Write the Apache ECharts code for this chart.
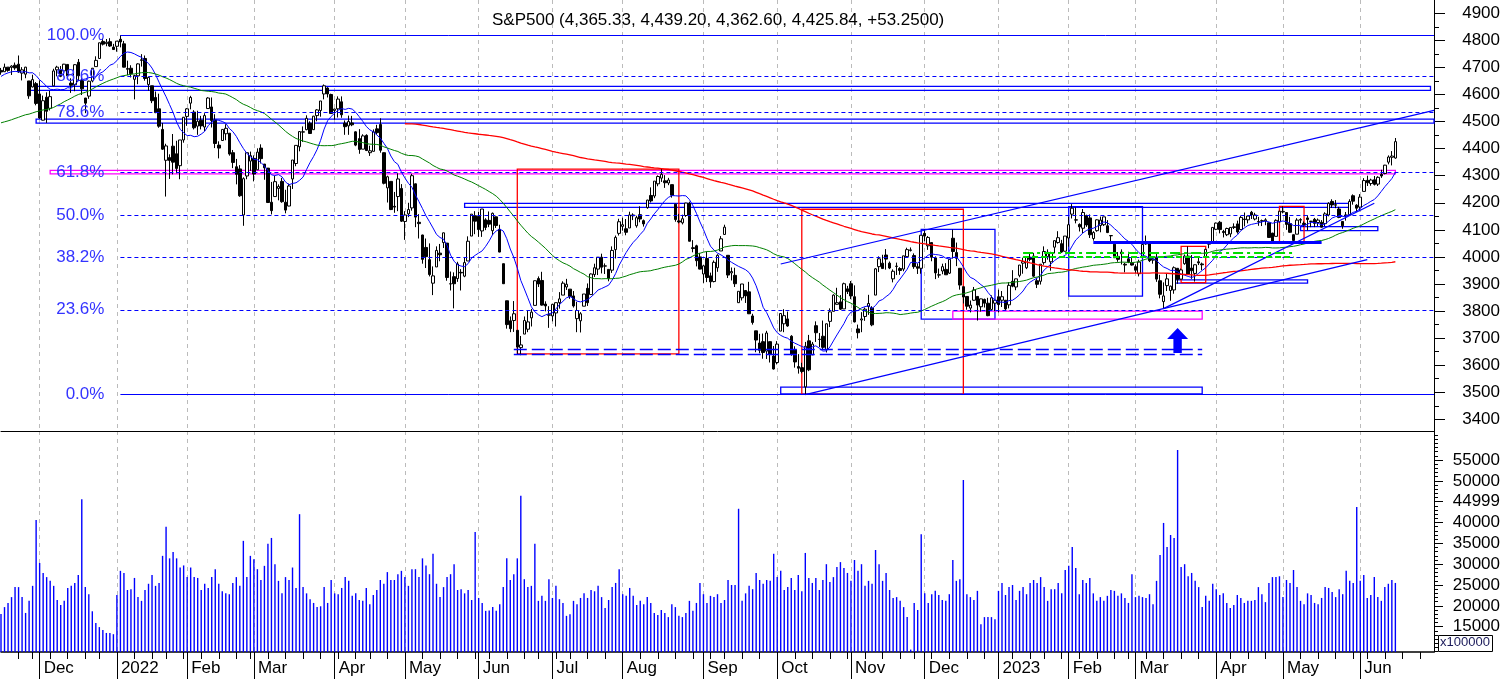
<!DOCTYPE html>
<html>
<head>
<meta charset="utf-8">
<title>S&amp;P500</title>
<script src="https://cdn.jsdelivr.net/npm/echarts@6/dist/echarts.min.js"></script>
<style>
  html, body { margin: 0; padding: 0; background: #fff; }
  #chart { width: 1506px; height: 679px; }
</style>
</head>
<body>
<div id="chart"></div>
<script>
// closes before the visible window, only used for the moving averages
const closesBefore = [4258,4323,4359,4367,4412,4422,4401,4401,4419,4395,
  4387,4423,4403,4429,4437,4432,4437,4448,4461,4468,4480,4448,4400,4406,4442,4480,4486,4496,4470,4509,4529,4523,
  4524,4537,4535,4520,4514,4493,4459,4469,4443,4481,4474,4433,4358,4354,4396,4449,4455,4443,4353,4359,4308,
  4357,4300,4346,4364,4400,4391,4361,4351,4364,4438,4471,4486,4520,4536,4550,4545,4566,4575,4552,4596,4605,
  4614,4631,4661,4680,4698,4702,4685,4647,4649,4683];

// rows: [day, open, high, low, close, volume (x100000)]
const nov2021 = [[15,4689,4698,4673,4683,18050],[16,4684,4714,4683,4701,19700],[17,4701,4701,4684,4689,20700],[18,4700,4708,4672,4705,22100],[19,4708,4718,4691,4698,24500],[22,4712,4744,4680,4683,24500],[23,4679,4701,4652,4691,22100],[24,4675,4702,4660,4701,18300],[26,4650,4650,4584,4595,21200],[29,4628,4673,4626,4655,24800],[30,4640,4646,4560,4567,40600]];
const dec2021 = [[1,4602,4652,4510,4513,30300],[2,4505,4596,4504,4577,27900],[3,4590,4608,4495,4538,26900],[6,4549,4613,4541,4592,26000],[7,4632,4695,4632,4687,24800],[8,4691,4706,4667,4701,21400],[9,4691,4705,4664,4667,20200],[10,4687,4713,4670,4712,21200],[13,4711,4711,4666,4669,24300],[14,4642,4660,4606,4634,24800],[15,4636,4712,4612,4710,25500],[16,4719,4731,4651,4669,27400],[17,4652,4667,4598,4621,45600],[20,4587,4587,4531,4568,24500],[21,4594,4651,4584,4649,22800],[22,4650,4698,4645,4697,18700],[23,4703,4741,4703,4726,15900],[27,4733,4791,4733,4791,14900],[28,4796,4808,4781,4786,14200],[29,4788,4805,4778,4793,13500],[30,4795,4808,4776,4779,13500],[31,4775,4787,4766,4766,13200]];
const jan2022 = [[3,4778,4797,4758,4797,22600],[4,4804,4819,4774,4794,28400],[5,4787,4798,4700,4701,27900],[6,4693,4725,4671,4696,23800],[7,4697,4708,4663,4677,24000],[10,4656,4673,4582,4670,26700],[11,4669,4715,4638,4713,22100],[12,4728,4749,4703,4726,21200],[13,4733,4744,4651,4659,23800],[14,4637,4666,4614,4663,25300],[18,4632,4632,4568,4577,27400],[19,4589,4611,4531,4533,24800],[20,4547,4603,4477,4483,25500],[21,4471,4495,4395,4398,32000],[24,4357,4418,4223,4410,39000],[25,4367,4379,4288,4356,31400],[26,4409,4454,4305,4350,32900],[27,4381,4429,4309,4327,31400],[28,4337,4432,4287,4432,29200],[31,4432,4517,4422,4516,29700]];
const feb2022 = [[1,4519,4550,4484,4547,26900],[2,4568,4595,4545,4589,29200],[3,4535,4542,4471,4477,26900],[4,4483,4540,4451,4501,26700],[7,4505,4521,4471,4484,23800],[8,4480,4531,4465,4522,25300],[9,4548,4590,4548,4587,24300],[10,4554,4589,4478,4504,26900],[11,4506,4527,4402,4419,28800],[14,4413,4427,4364,4402,25300],[15,4430,4472,4429,4471,23500],[16,4455,4490,4431,4475,23000],[17,4457,4457,4374,4380,22800],[18,4385,4395,4328,4349,25500],[22,4333,4362,4268,4305,26900],[23,4325,4339,4222,4226,24800],[24,4155,4294,4115,4289,35600],[25,4299,4385,4287,4385,26900],[28,4354,4389,4318,4374,32000]];
const mar2022 = [[1,4364,4375,4279,4306,31200],[2,4322,4401,4322,4387,28800],[3,4402,4416,4345,4363,26200],[4,4343,4343,4285,4329,29600],[7,4328,4328,4199,4201,34900],[8,4202,4277,4157,4171,36300],[9,4223,4299,4223,4278,30000],[10,4253,4268,4209,4260,26000],[11,4279,4292,4200,4204,23000],[14,4202,4248,4161,4173,26900],[15,4188,4271,4187,4262,26200],[16,4288,4358,4251,4358,29200],[17,4345,4412,4335,4412,24300],[18,4407,4465,4390,4463,42000],[21,4462,4482,4425,4461,24500],[22,4470,4523,4468,4512,23000],[23,4494,4501,4455,4456,21600],[24,4470,4521,4469,4520,20700],[25,4522,4546,4501,4543,19700],[28,4541,4576,4518,4576,19900],[29,4602,4637,4582,4632,24500],[30,4624,4627,4589,4602,20700],[31,4600,4603,4530,4530,26200]];
const apr2022 = [[1,4541,4548,4507,4546,23000],[4,4547,4593,4515,4583,22800],[5,4573,4593,4514,4525,24300],[6,4494,4504,4451,4481,26900],[7,4484,4522,4451,4500,26000],[8,4495,4521,4483,4488,22400],[11,4462,4464,4409,4413,23000],[12,4437,4472,4381,4397,21400],[13,4398,4453,4398,4447,21200],[14,4449,4453,4391,4393,24300],[18,4385,4411,4373,4392,20400],[19,4390,4471,4390,4462,22600],[20,4473,4488,4452,4459,23800],[21,4489,4512,4385,4394,26200],[22,4385,4386,4268,4272,25300],[25,4255,4300,4201,4296,28100],[26,4279,4279,4173,4175,26200],[27,4187,4240,4163,4184,26200],[28,4223,4309,4169,4288,27600],[29,4253,4269,4129,4132,28400]];
const may2022 = [[2,4131,4169,4063,4155,26900],[3,4159,4200,4147,4175,24800],[4,4181,4307,4171,4300,28800],[5,4270,4271,4110,4147,28800],[6,4128,4158,4068,4123,26900],[9,4081,4082,3975,3991,31400],[10,4035,4068,3959,4001,29700],[11,3990,4050,3928,3935,27600],[12,3903,3965,3859,3930,32500],[13,3963,4039,3963,4024,25300],[16,4014,4048,3984,4008,22100],[17,4053,4090,4033,4089,24500],[18,4051,4051,3912,3924,26900],[19,3900,3946,3876,3901,27600],[20,3927,3943,3810,3901,30000],[23,3920,3982,3908,3974,23800],[24,3943,3955,3876,3941,24000],[25,3929,3999,3925,3979,23000],[26,3985,4076,3985,4058,23800],[27,4077,4158,4077,4158,21400],[31,4152,4169,4084,4132,37700]];
const jun2022 = [[1,4150,4166,4074,4101,21900],[2,4096,4177,4074,4177,20700],[3,4137,4143,4099,4109,18800],[6,4135,4168,4110,4121,18900],[7,4097,4164,4081,4161,19700],[8,4148,4149,4107,4116,18800],[9,4102,4119,4017,4018,20400],[10,3975,3975,3900,3901,24500],[13,3838,3838,3735,3750,31400],[14,3764,3780,3722,3735,26200],[15,3765,3837,3723,3790,27600],[16,3729,3729,3640,3667,31400],[17,3665,3708,3637,3675,46400],[21,3715,3780,3715,3765,26400],[22,3733,3802,3722,3760,24500],[23,3775,3808,3743,3796,24800],[24,3821,3913,3821,3912,34900],[27,3920,3928,3889,3900,21200],[28,3913,3945,3820,3822,22400],[29,3826,3836,3799,3819,21200],[30,3786,3818,3738,3785,26400]];
const jul2022 = [[1,3782,3827,3762,3825,21900],[5,3793,3832,3743,3831,24800],[6,3831,3870,3809,3845,21600],[7,3859,3910,3859,3903,20700],[8,3889,3919,3878,3899,17600],[11,3881,3881,3845,3854,18000],[12,3856,3874,3813,3819,21200],[13,3772,3834,3722,3802,20400],[14,3764,3796,3721,3790,21900],[15,3818,3863,3818,3863,23000],[18,3884,3902,3819,3831,21900],[19,3861,3939,3861,3937,23800],[20,3935,3975,3926,3960,23500],[21,3955,3999,3933,3999,24800],[22,3999,4012,3939,3962,22100],[25,3966,3976,3937,3967,19500],[26,3954,3954,3910,3921,21400],[27,3951,4039,3941,4024,24500],[28,4027,4079,3994,4072,25500],[29,4087,4141,4079,4130,28800]];
const aug2022 = [[1,4113,4145,4097,4119,22800],[2,4104,4140,4080,4091,22400],[3,4107,4167,4107,4155,24300],[4,4155,4161,4136,4152,22400],[5,4115,4152,4108,4145,20200],[8,4156,4187,4128,4140,21200],[9,4134,4138,4112,4122,20400],[10,4182,4211,4178,4210,22100],[11,4227,4257,4201,4207,20700],[12,4225,4280,4217,4280,18300],[15,4270,4301,4261,4297,17800],[16,4291,4325,4277,4305,19000],[17,4281,4302,4255,4274,18300],[18,4273,4292,4265,4284,17300],[19,4267,4267,4219,4228,20400],[22,4195,4196,4130,4138,19700],[23,4133,4159,4124,4129,17600],[24,4126,4156,4120,4141,17300],[25,4153,4200,4148,4199,18300],[26,4198,4204,4057,4058,21200],[29,4034,4062,4017,4031,18800],[30,4041,4045,3965,3986,20700],[31,4000,4015,3954,3955,25500]];
const sep2022 = [[1,3937,3970,3904,3967,22800],[2,3994,4019,3907,3924,20700],[6,3930,3942,3886,3908,22400],[7,3909,3987,3906,3980,22100],[8,3960,4010,3945,4006,22800],[9,4022,4077,4022,4067,20700],[12,4083,4119,4083,4110,21400],[13,4006,4006,3922,3933,26200],[14,3941,3961,3913,3946,25000],[15,3932,3960,3889,3901,25000],[16,3831,3873,3830,3873,43300],[19,3849,3900,3839,3900,21200],[20,3876,3877,3830,3856,23000],[21,3871,3908,3789,3790,24800],[22,3782,3790,3750,3758,24000],[23,3727,3727,3648,3693,27900],[26,3682,3716,3644,3655,26200],[27,3687,3717,3624,3647,25300],[28,3652,3727,3623,3719,26200],[29,3687,3688,3610,3640,26000],[30,3634,3671,3584,3586,32500]];
const oct2022 = [[3,3610,3689,3603,3678,26900],[4,3726,3791,3726,3791,28400],[5,3753,3807,3722,3783,23800],[6,3771,3798,3742,3745,24500],[7,3707,3711,3635,3640,26700],[10,3657,3670,3591,3612,23800],[11,3595,3641,3569,3589,27400],[12,3591,3609,3570,3577,23500],[13,3520,3686,3492,3670,32700],[14,3690,3712,3578,3583,26700],[17,3638,3686,3638,3678,25500],[18,3746,3762,3686,3720,26700],[19,3696,3719,3667,3695,23800],[20,3707,3765,3658,3666,26200],[21,3657,3754,3647,3753,30000],[24,3762,3810,3741,3797,25700],[25,3799,3862,3799,3859,26900],[26,3825,3886,3824,3831,29300],[27,3834,3859,3804,3807,30500],[28,3808,3905,3808,3901,29100],[31,3882,3893,3863,3872,27900]];
const nov2022 = [[1,3901,3911,3844,3856,26000],[2,3853,3895,3758,3760,31000],[3,3734,3750,3699,3720,28400],[4,3767,3796,3722,3771,30000],[7,3780,3813,3764,3807,24800],[8,3817,3860,3786,3828,26000],[9,3811,3818,3744,3749,25300],[10,3859,3959,3859,3956,33400],[11,3964,4002,3944,3993,30000],[14,3977,4008,3957,3957,26000],[15,4007,4029,3953,3992,27900],[16,3977,3983,3955,3959,23800],[17,3919,3954,3906,3947,21900],[18,3966,3979,3933,3965,22100],[21,3957,3962,3934,3950,21200],[22,3955,4004,3947,4004,19700],[23,4001,4034,3999,4027,17300],[25,4024,4035,4020,4026,9500],[28,4005,4013,3956,3964,20700],[29,3964,3976,3937,3958,19000],[30,3958,4080,3938,4080,37200]];
const dec2022 = [[1,4087,4101,4058,4077,23000],[2,4041,4077,4026,4072,20700],[5,4053,4053,3984,3999,22800],[6,3996,4002,3918,3941,23600],[7,3933,3957,3923,3934,22600],[8,3948,3975,3936,3964,21400],[9,3954,3977,3934,3934,21200],[12,3940,3990,3937,3991,22800],[13,4069,4101,3994,4020,31000],[14,4016,4053,3966,3995,26000],[15,3958,3958,3879,3896,26400],[16,3890,3890,3828,3852,50200],[19,3854,3855,3805,3818,22800],[20,3811,3839,3795,3822,22100],[21,3840,3889,3838,3878,21400],[22,3854,3854,3765,3822,23600],[23,3816,3846,3798,3845,15600],[27,3843,3846,3813,3829,17300],[28,3829,3849,3781,3783,17300],[29,3806,3858,3806,3849,17300],[30,3829,3840,3800,3840,16800]];
const jan2023 = [[3,3853,3879,3795,3824,23600],[4,3840,3874,3815,3853,25500],[5,3840,3840,3803,3808,22600],[6,3823,3907,3810,3895,24500],[9,3910,3951,3888,3892,25000],[10,3889,3920,3877,3919,21400],[11,3932,3970,3925,3970,23600],[12,3977,3997,3938,3983,24500],[13,3960,4003,3955,3999,22800],[17,3999,4015,3984,3991,25500],[18,4003,4015,3926,3929,26200],[19,3912,3923,3885,3899,25500],[20,3910,3973,3898,3973,26900],[23,3979,4039,3971,4020,24500],[24,4001,4028,3990,4017,21200],[25,3982,4019,3949,4016,24000],[26,4036,4061,4013,4060,24000],[27,4053,4095,4049,4071,25500],[30,4049,4063,4015,4018,23000],[31,4021,4077,4020,4077,28600]];
const feb2023 = [[1,4070,4148,4038,4119,29600],[2,4158,4195,4142,4180,34100],[3,4137,4183,4124,4136,29100],[6,4120,4124,4094,4111,22800],[7,4106,4177,4088,4164,26200],[8,4153,4156,4111,4118,25500],[9,4144,4157,4070,4082,26700],[10,4068,4095,4060,4090,23000],[13,4097,4139,4093,4137,21200],[14,4116,4149,4091,4136,22100],[15,4119,4148,4114,4148,21200],[16,4115,4136,4088,4090,22400],[17,4078,4081,4048,4079,23800],[21,4047,4049,3996,3997,23600],[22,4002,4018,3982,3991,22400],[23,4018,4028,3972,4012,23000],[24,3973,3978,3943,3970,21900],[27,3993,4019,3977,3982,20700],[28,3977,3998,3968,3970,27600]];
const mar2023 = [[1,3964,3972,3940,3951,22100],[2,3938,3990,3928,3981,22400],[3,3998,4048,3998,4046,22100],[6,4055,4079,4045,4048,21900],[7,4049,4051,3981,3986,22800],[8,3988,4001,3975,3992,20400],[9,3999,4017,3908,3918,26000],[10,3912,3934,3847,3862,32200],[13,3835,3906,3809,3856,39900],[14,3894,3937,3874,3919,34100],[15,3876,3894,3838,3892,37000],[16,3878,3965,3864,3960,36300],[17,3958,3959,3901,3917,57400],[20,3918,3957,3917,3952,29300],[21,3975,4009,3971,4003,30000],[22,4003,4039,3936,3937,27100],[23,3959,4007,3919,3949,27900],[24,3939,3972,3909,3971,26000],[27,3982,4003,3970,3978,24500],[28,3974,3979,3951,3971,19700],[29,3999,4030,3999,4028,22400],[30,4047,4058,4032,4051,21200],[31,4056,4110,4056,4109,25300]];
const apr2023 = [[3,4102,4127,4099,4125,24000],[4,4128,4133,4087,4101,22600],[5,4094,4100,4072,4090,23000],[6,4082,4108,4077,4105,20700],[10,4085,4110,4073,4109,19500],[11,4111,4124,4103,4109,20200],[12,4122,4134,4086,4092,22600],[13,4101,4151,4099,4146,21900],[14,4140,4164,4113,4138,20700],[17,4137,4152,4124,4151,21200],[18,4165,4170,4140,4155,21200],[19,4140,4163,4135,4155,21400],[20,4131,4148,4115,4130,24500],[21,4132,4138,4114,4134,22800],[24,4133,4143,4117,4137,20900],[25,4126,4127,4071,4072,25500],[26,4088,4089,4049,4056,26900],[27,4076,4139,4076,4135,26900],[28,4129,4170,4128,4169,27100]];
const may2023 = [[1,4166,4187,4161,4168,22100],[2,4164,4164,4100,4120,26200],[3,4123,4148,4089,4091,25500],[4,4082,4083,4048,4061,28600],[5,4084,4143,4084,4136,24500],[8,4136,4143,4124,4138,21200],[9,4124,4131,4111,4119,20400],[10,4144,4154,4098,4138,23000],[11,4132,4133,4110,4131,22600],[12,4139,4144,4110,4124,20700],[15,4127,4142,4114,4136,20400],[16,4128,4136,4109,4110,21900],[17,4123,4165,4114,4159,24500],[18,4155,4202,4150,4198,24300],[19,4205,4213,4181,4192,23300],[22,4191,4210,4180,4193,22100],[23,4177,4185,4143,4146,24000],[24,4131,4132,4104,4115,22800],[25,4155,4166,4134,4151,28400],[26,4156,4213,4155,4205,26000],[30,4226,4231,4193,4206,25500],[31,4191,4195,4167,4180,43700]];
const jun2023 = [[1,4184,4232,4169,4221,26000],[2,4242,4291,4242,4282,27400],[5,4283,4300,4262,4274,21900],[6,4271,4289,4263,4284,22600],[7,4285,4299,4264,4268,26900],[8,4269,4298,4262,4294,22100],[9,4305,4322,4292,4299,21200],[12,4308,4340,4305,4339,24500],[13,4350,4375,4342,4369,25300],[14,4368,4391,4338,4372.59,26200],[15,4365.33,4439.20,4362.60,4425.84,25500]];

const months = [['2021-11', nov2021], ['2021-12', dec2021], ['2022-01', jan2022], ['2022-02', feb2022],
  ['2022-03', mar2022], ['2022-04', apr2022], ['2022-05', may2022], ['2022-06', jun2022], ['2022-07', jul2022],
  ['2022-08', aug2022], ['2022-09', sep2022], ['2022-10', oct2022], ['2022-11', nov2022], ['2022-12', dec2022],
  ['2023-01', jan2023], ['2023-02', feb2023], ['2023-03', mar2023], ['2023-04', apr2023], ['2023-05', may2023],
  ['2023-06', jun2023]];
// empty days kept on the right of the axis
const futureDates = ['2023-06-16','2023-06-19','2023-06-20','2023-06-21','2023-06-22','2023-06-23',
  '2023-06-26','2023-06-27','2023-06-28','2023-06-29','2023-06-30'];

// axis
const priceMin = 3357, priceMax = 4949;
const priceTicks = [3400,3500,3600,3700,3800,3900,4000,4100,4200,4300,4400,4500,4600,4700,4800,4900];
const priceMinorTicks = [3450,3550,3650,3750,3850,3950,4050,4150,4250,4350,4450,4550,4650,4750,4850];
const volMin = 8926, volMax = 61963;
const volTicks = [15000,20000,25000,30000,35000,40000,45000,50000,55000];
const volTickLabels = ['15000','20000','25000','30000','35000','40000','44999','50000','55000'];
const monthNames = ['Jan','Feb','Mar','Apr','May','Jun','Jul','Aug','Sep','Oct','Nov','Dec'];

// fibonacci retracement
const fibHigh = 4818.62, fibLow = 3491.58;
const fibRatios = [1, 0.886, 0.786, 0.618, 0.5, 0.382, 0.236, 0];
const fibFrom = '2022-01-04', fibTo = '2023-06-30';

// drawings: [fromDate, top, toDate, bottom]
const redBoxes = [
  ['2022-06-16', 4324, '2022-08-23', 3642],
  ['2022-10-12', 4176, '2022-12-16', 3492],
  ['2023-03-20', 4039, '2023-03-29', 3905],
  ['2023-04-28', 4187, '2023-05-09', 4050]
];
const blueBoxes = [
  ['2022-11-30', 4102, '2022-12-30', 3770],
  ['2023-02-01', 4186, '2023-03-03', 3855],
  ['2021-11-26', 4630, '2023-06-29', 4615],
  ['2021-11-30', 4509, '2023-06-30', 4494],
  ['2022-05-25', 4198, '2023-05-26', 4183],
  ['2022-10-04', 3519, '2023-03-28', 3494],
  ['2023-03-16', 3915, '2023-05-10', 3903],
  ['2023-05-08', 4112, '2023-06-08', 4097]
];
const magentaBoxes = [
  ['2021-12-06', 4320, '2023-06-15', 4307],
  ['2022-12-13', 3800, '2023-03-28', 3770]
];
// [fromDate, fromPrice, toDate, toPrice]
const trendLines = [
  ['2022-10-04', 3974, '2023-06-30', 4541],
  ['2022-10-13', 3491.58, '2023-06-05', 3990],
  ['2023-03-13', 3809, '2023-06-07', 4198]
];
// [fromDate, toDate, price]
const blueDashedLevels = [['2022-06-15', '2023-03-28', 3660], ['2022-06-15', '2023-03-28', 3642]];
const greenDashedLevels = [['2023-01-12', '2023-05-04', 4017], ['2023-01-12', '2023-05-04', 4001]];
const thickLevels = [['2023-02-10', '2023-05-16', 4053]];
const arrowPoint = ['2023-03-17', 3691];

const FONT = 'Arial, "Liberation Sans", sans-serif';

// build series data
const dates = [], candles = [], volumes = [], closes = [];
months.forEach(([ym, rows]) => {
  rows.forEach(r => {
    dates.push(ym + '-' + String(r[0]).padStart(2, '0'));
    candles.push([r[1], r[4], r[3], r[2]]);
    volumes.push(r[5]);
    closes.push(r[4]);
  });
});
const categories = dates.concat(futureDates);
const allCloses = closesBefore.concat(closes);

function sma(n) {
  return dates.map((d, j) => {
    const k = closesBefore.length + j;
    if (k < n - 1) return null;
    let s = 0;
    for (let t = k - n + 1; t <= k; t++) s += allCloses[t];
    return +(s / n).toFixed(2);
  });
}

const monthStart = new Set(), weekStart = new Set();
categories.forEach((d, i) => {
  if (i === 0) return;
  const prev = categories[i - 1];
  if (d.slice(0, 7) !== prev.slice(0, 7)) monthStart.add(i);
  const wd = new Date(d + 'T00:00:00Z').getUTCDay();
  const pwd = new Date(prev + 'T00:00:00Z').getUTCDay();
  if (wd <= pwd) weekStart.add(i);
});

// title from the last bar
const last = jun2023[jun2023.length - 1];
const prevClose = jun2023[jun2023.length - 2][4];
const f2 = v => v.toLocaleString('en-US', { minimumFractionDigits: 2, maximumFractionDigits: 2 });
const titleText = 'S&P500 (' + f2(last[1]) + ', ' + f2(last[2]) + ', ' + f2(last[3]) + ', ' + f2(last[4]) +
  ', +' + (last[4] - prevClose).toFixed(4) + ')';

// marker lines
const markLines = [];
fibRatios.forEach(r => {
  const p = fibLow + r * (fibHigh - fibLow);
  const solid = r === 1 || r === 0;
  markLines.push([
    { coord: [fibFrom, p],
      lineStyle: { color: '#0000ff', width: 1, type: solid ? 'solid' : [4, 3] },
      label: { show: true, position: 'start', distance: 16, formatter: (r * 100).toFixed(1) + '%',
               color: '#3333ff', fontSize: 17, fontFamily: FONT } },
    { coord: [fibTo, p] }
  ]);
});
trendLines.forEach(t => markLines.push([
  { coord: [t[0], t[1]], lineStyle: { color: '#0000ff', width: 1.2, type: 'solid' } },
  { coord: [t[2], t[3]] }
]));
blueDashedLevels.forEach(t => markLines.push([
  { coord: [t[0], t[2]], lineStyle: { color: '#0000ff', width: 1.3, type: [13, 5] } },
  { coord: [t[1], t[2]] }
]));
greenDashedLevels.forEach((t, k) => markLines.push([
  { coord: [t[0], t[2]], lineStyle: { color: '#00dd00', width: 2, type: k === 0 ? [10, 4, 3, 4] : [6, 3] } },
  { coord: [t[1], t[2]] }
]));
thickLevels.forEach(t => markLines.push([
  { coord: [t[0], t[2]], lineStyle: { color: '#0000ff', width: 3, type: 'solid' } },
  { coord: [t[1], t[2]] }
]));

const markAreas = [];
function addBoxes(list, color) {
  list.forEach(b => markAreas.push([
    { coord: [b[0], b[1]], itemStyle: { color: 'rgba(0,0,0,0)', borderColor: color, borderWidth: 1.3 } },
    { coord: [b[2], b[3]] }
  ]));
}
addBoxes(blueBoxes, '#0000ff');
addBoxes(magentaBoxes, '#ff00ff');
addBoxes(redBoxes, '#ff0000');

const chart = echarts.init(document.getElementById('chart'));
const option = {
  animation: false,
  backgroundColor: '#fff',
  title: {
    text: titleText, left: 487, top: 7,
    textStyle: { fontFamily: FONT, fontSize: 17, fontWeight: 'normal', color: '#000' }
  },
  grid: [
    { left: 1, right: 72, top: 0, height: 431 },
    { left: 1, right: 72, top: 431, bottom: 27 }
  ],
  xAxis: [
    { type: 'category', gridIndex: 0, position: 'bottom', data: categories, boundaryGap: false,
      axisLine: { show: true, lineStyle: { color: '#000', width: 1 } },
      axisTick: { show: false }, axisLabel: { show: false },
      splitLine: { show: true, interval: (i) => monthStart.has(i),
                   lineStyle: { color: '#bbbbbb', type: [4, 4], width: 1 } } },
    { type: 'category', gridIndex: 1, position: 'bottom', data: categories, boundaryGap: false,
      axisLine: { show: true, lineStyle: { color: '#000', width: 1.5 } },
      axisTick: { show: true, interval: (i) => weekStart.has(i), length: 7, lineStyle: { color: '#000' } },
      axisLabel: { show: false },
      splitLine: { show: true, interval: (i) => monthStart.has(i),
                   lineStyle: { color: '#bbbbbb', type: [4, 4], width: 1 } } },
    { type: 'category', gridIndex: 1, position: 'bottom', offset: 0, data: categories, boundaryGap: false,
      axisLine: { show: false },
      axisTick: { show: true, interval: (i) => monthStart.has(i), length: 27, lineStyle: { color: '#000' } },
      axisLabel: { show: true, interval: (i) => monthStart.has(i), align: 'left', margin: 8,
                   padding: [0, 0, 0, 4], fontFamily: FONT, fontSize: 17, color: '#000',
                   formatter: (v) => v.slice(5, 7) === '01' ? v.slice(0, 4) : monthNames[+v.slice(5, 7) - 1] },
      splitLine: { show: false } }
  ],
  yAxis: [
    { type: 'value', gridIndex: 0, position: 'right', min: priceMin, max: priceMax, scale: true,
      axisLine: { show: true, lineStyle: { color: '#000', width: 1 } },
      axisTick: { show: true, length: 11, customValues: priceTicks, lineStyle: { color: '#000' } },
      axisLabel: { show: true, customValues: priceTicks, align: 'right', margin: 66,
                   fontFamily: FONT, fontSize: 17, color: '#000', formatter: (v) => String(v) },
      splitLine: { show: false } },
    { type: 'value', gridIndex: 0, position: 'right', min: priceMin, max: priceMax, scale: true,
      axisLine: { show: false },
      axisTick: { show: true, length: 5, customValues: priceMinorTicks, lineStyle: { color: '#000' } },
      axisLabel: { show: false }, splitLine: { show: false } },
    { type: 'value', gridIndex: 1, position: 'right', min: volMin, max: volMax, scale: true,
      axisLine: { show: true, lineStyle: { color: '#000', width: 1 } },
      axisTick: { show: true, length: 9, customValues: volTicks, lineStyle: { color: '#000' } },
      axisLabel: { show: true, customValues: volTicks, align: 'right', margin: 66,
                   fontFamily: FONT, fontSize: 17, color: '#000',
                   formatter: (v) => volTickLabels[volTicks.indexOf(v)] || '' },
      splitLine: { show: false } },
    { type: 'value', gridIndex: 1, position: 'right', min: volMin, max: volMax, scale: true,
      axisLine: { show: false },
      axisTick: { show: true, length: 4,
                  customValues: Array.from({ length: 53 }, (_, k) => 9000 + k * 1000),
                  lineStyle: { color: '#000' } },
      axisLabel: { show: false }, splitLine: { show: false } }
  ],
  series: [
    { name: 'S&P500', type: 'candlestick', xAxisIndex: 0, yAxisIndex: 0, data: candles,
      barWidth: 3, silent: true, z: 2,
      itemStyle: { color: '#ffffff', color0: '#000000', borderColor: '#000000', borderColor0: '#000000', borderWidth: 1 } },
    { name: 'MA11', type: 'line', xAxisIndex: 0, yAxisIndex: 0, data: sma(11), showSymbol: false,
      silent: true, z: 3, lineStyle: { color: '#0000ff', width: 1 } },
    { name: 'MA50', type: 'line', xAxisIndex: 0, yAxisIndex: 0, data: sma(50), showSymbol: false,
      silent: true, z: 3, lineStyle: { color: '#008000', width: 1 } },
    { name: 'MA200', type: 'line', xAxisIndex: 0, yAxisIndex: 0, data: sma(200), showSymbol: false,
      silent: true, z: 3, lineStyle: { color: '#ff0000', width: 1.3 } },
    { name: 'drawings', type: 'line', xAxisIndex: 0, yAxisIndex: 0, data: [], silent: true, z: 4,
      markLine: { silent: true, symbol: ['none', 'none'], label: { show: false }, data: markLines,
                  emphasis: { disabled: true } },
      markArea: { silent: true, label: { show: false }, data: markAreas, emphasis: { disabled: true } },
      markPoint: { silent: true, data: [{
        coord: arrowPoint,
        symbol: 'path://M10 0 L20 11 L14 11 L14 25 L6 25 L6 11 L0 11 Z',
        symbolSize: [21, 25], itemStyle: { color: '#0000ff' }, label: { show: false } }] } },
    { name: 'Volume', type: 'bar', xAxisIndex: 1, yAxisIndex: 2, data: volumes, barWidth: 1.4,
      silent: true, itemStyle: { color: '#0000ff' } }
  ],
  graphic: [
    { type: 'rect', left: 1438, top: 635, shape: { width: 54, height: 16 },
      style: { fill: '#fff', stroke: '#000', lineWidth: 1 }, z: 100 },
    { type: 'text', left: 1440, top: 636,
      style: { text: 'x100000', fill: '#1a1a5a', font: '13px Arial, "Liberation Sans", sans-serif' }, z: 101 }
  ]
};
chart.setOption(option);
</script>
</body>
</html>
